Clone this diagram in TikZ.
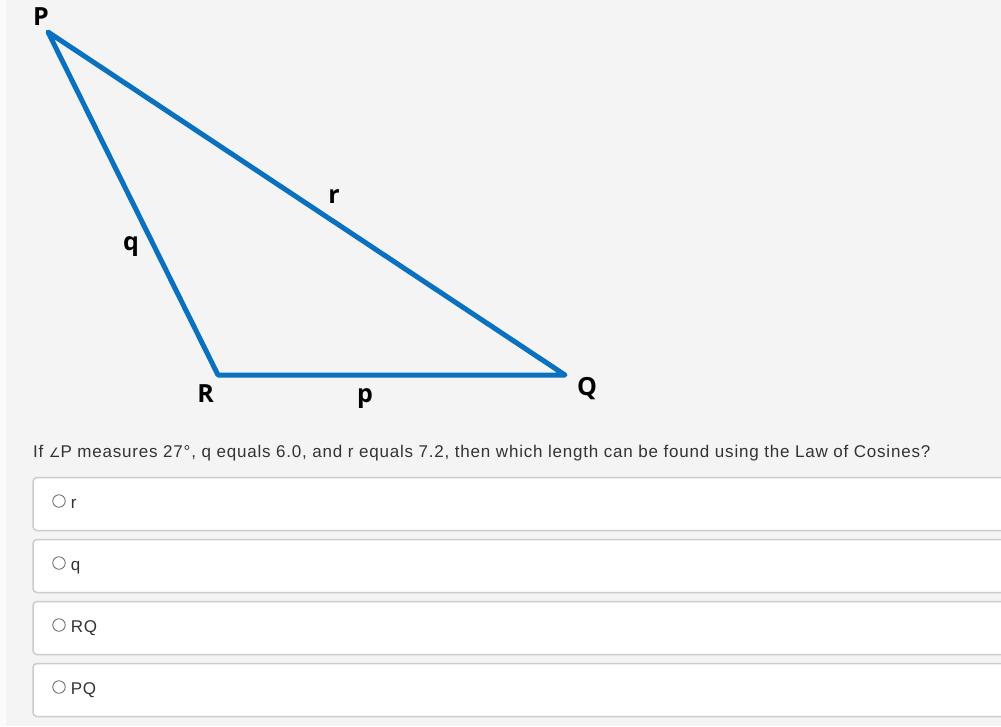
\documentclass[tikz,border=0pt]{standalone}
\usepackage{fontspec}
\setmainfont{Liberation Sans}[LetterSpace=4.7]
\newfontfamily\labelfont{Open Sans}
\newfontfamily\symfont{DejaVu Sans}
\usetikzlibrary{positioning}

\definecolor{sideblue}{HTML}{0A70C0}
\definecolor{pagegray}{HTML}{F4F4F4}
\definecolor{boxgray}{HTML}{CCCCCC}
\definecolor{textgray}{HTML}{333333}

\tikzset{side/.style={draw=sideblue, line width=5pt, line join=round, line cap=round},
         letter/.style={font=\labelfont\bfseries\fontsize{25}{25}\selectfont,
                        inner sep=0pt, anchor=base},
         choice/.style={draw=boxgray, line width=1.5pt, fill=white, rounded corners=4pt},
         radio/.style={draw=black!60, circle, line width=0.8pt, minimum size=12.5pt, inner sep=0pt},
         answer/.style={font=\fontsize{17}{20}\selectfont, text=textgray,
                        inner sep=0pt, anchor=base west}}

\begin{document}
\begin{tikzpicture}[x=1pt, y=-1pt]
  \useasboundingbox (0,0) rectangle (1001,726);
  \clip (0,0) rectangle (1001,726);
  \fill[pagegray] (0,0) rectangle (1001,726);
  \fill[white!60!pagegray] (0,0) rectangle (6,726);

  % the triangle
  \coordinate (P) at (48,32);
  \coordinate (R) at (218,375);
  \coordinate (Q) at (565,375);
  \draw[side] (P) -- (Q) -- (R) -- cycle;

  \node[letter] (labP) at (41,25) {P};
  \node[letter] (labR) at (205.5,402) {R};
  \node[letter] (labQ) at (587,395) {Q};
  \node[letter] (labp) at (365,402) {p};
  \node[letter] (labq) at (131,250) {q};
  \node[letter] (labr) at (334,203) {r};

  % question and choices
  \node[answer] (question) at (33,457)
    {If {\symfont\fontsize{13}{13}\selectfont ∠}P measures 27°, q equals 6.0, and r equals 7.2, then which length can be found using the Law of Cosines?};

  \foreach \txt [count=\i from 0] in {r,q,RQ,PQ} {
    \draw[choice] (33,477.5+62*\i) rectangle (1020,530.5+62*\i);
    \node[radio] (radio\i) at (59,501+62*\i) {};
    \node[answer] (ans\i) at ([xshift=5pt,yshift=-7pt]radio\i.east) {\txt};
  }
\end{tikzpicture}
\end{document}
